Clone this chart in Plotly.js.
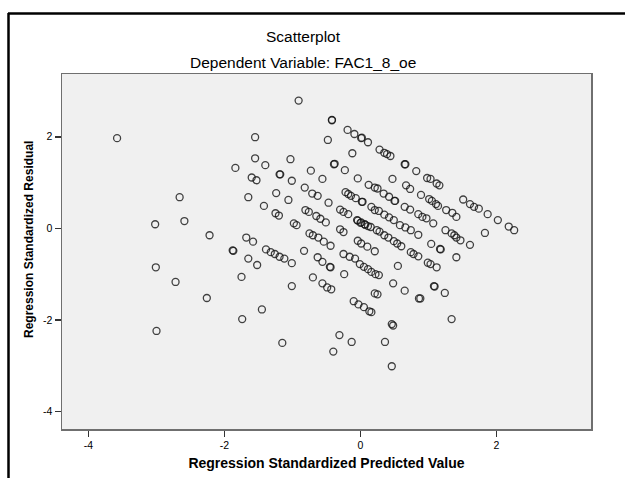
<!DOCTYPE html>
<html>
<head>
<meta charset="utf-8">
<script src="https://cdn.plot.ly/plotly-3.0.1.min.js"></script>
<style>html,body{margin:0;padding:0;background:#fff;}#chart{width:625px;height:478px;}</style>
</head>
<body>
<div id="chart"></div>
<script>
// Regression Standardized Predicted Value (x) and Regression Standardized Residual (y)
const predicted = [
-3.58,-1.55,-1.55,-1.84,-1.60,-1.53,-2.66,-1.65,-3.02,-2.59,-2.22,-1.68,-1.58,-1.88,-1.87,-1.65,-1.52,-3.01,-2.72,-1.75,-2.26,-1.74,-3.00,-1.45,
-0.91,-0.42,-0.42,-0.19,-0.09,0.01,0.02,0.11,-0.48,-0.12,0.28,0.35,0.39,0.44,-1.40,-1.03,-0.39,-0.38,-0.73,-0.23,0.65,0.66,0.82,-1.19,-1.18,-1.01,-0.56,-0.04,0.47,
0.98,1.03,1.12,1.16,0.12,0.21,0.25,0.34,0.42,0.50,0.51,0.67,0.73,0.89,1.01,1.05,1.11,1.14,-0.82,-0.71,-0.63,-0.47,-0.22,-0.18,-0.14,-0.07,0.02,0.03,
0.16,0.21,0.27,0.35,0.42,0.49,0.58,0.66,0.74,0.65,0.73,0.85,0.91,0.97,1.07,0.85,1.04,1.17,1.18,-1.24,-1.06,-1.42,-1.25,-1.20,-0.98,-0.94,-0.81,-0.76,
-0.65,-0.59,-0.51,-0.30,-0.25,-0.18,-0.05,0.00,0.06,0.11,0.15,-0.04,0.01,0.07,0.24,0.28,0.35,0.41,0.49,0.54,-0.30,-0.25,-0.75,-0.70,-0.62,-0.54,-0.44,
-0.04,0.01,0.10,0.21,0.60,0.74,0.78,0.85,-1.39,-1.32,-1.26,-1.19,-1.12,-0.83,-0.63,-0.25,-0.16,-0.08,
1.26,1.35,1.41,1.51,1.61,1.67,1.74,1.87,2.02,2.18,2.26,1.83,1.25,1.34,1.38,1.41,1.47,1.61,1.41,
0.99,1.03,1.12,1.08,1.09,1.24,0.88,1.34,
-1.01,-0.56,-0.45,-0.44,-1.01,-0.70,-0.56,-0.49,-0.43,-0.24,-0.01,0.05,0.11,0.16,0.22,0.27,0.21,0.25,-0.10,-0.03,0.05,0.13,0.16,0.48,0.65,0.86,0.55,
0.46,0.48,0.36,0.46,-0.31,-0.13,-0.40,-1.15
];
const residual = [
1.97,1.99,1.53,1.32,1.11,1.05,0.68,0.68,0.09,0.16,-0.15,-0.20,-0.29,-0.48,-0.49,-0.66,-0.80,-0.85,-1.17,-1.06,-1.52,-1.98,-2.24,-1.77,
2.79,2.36,2.37,2.15,2.06,1.97,1.98,1.88,1.93,1.64,1.72,1.65,1.62,1.58,1.38,1.51,1.40,1.41,1.26,1.27,1.40,1.40,1.25,1.18,1.18,1.04,1.08,1.09,1.08,
1.10,1.08,0.98,0.94,0.95,0.89,0.87,0.76,0.69,0.60,0.60,0.94,0.86,0.73,0.64,0.60,0.53,0.49,0.89,0.76,0.71,0.56,0.79,0.75,0.71,0.66,0.58,0.58,
0.47,0.40,0.38,0.30,0.24,0.18,0.07,0.02,-0.04,0.47,0.41,0.31,0.25,0.22,0.11,-0.14,-0.34,-0.45,-0.46,0.77,0.62,0.49,0.33,0.28,0.11,0.07,0.40,0.36,
0.27,0.21,0.13,0.41,0.36,0.31,0.18,0.12,0.09,0.05,0.03,0.17,0.13,0.08,-0.04,-0.07,-0.15,-0.20,-0.28,-0.33,-0.02,-0.08,-0.11,-0.15,-0.20,-0.29,-0.38,
-0.27,-0.33,-0.40,-0.50,-0.39,-0.52,-0.56,-0.61,-0.46,-0.52,-0.56,-0.62,-0.66,-0.49,-0.63,-0.56,-0.62,-0.66,
0.40,0.34,0.25,0.63,0.53,0.47,0.43,0.31,0.18,0.04,-0.04,-0.10,-0.04,-0.11,-0.15,-0.20,-0.26,-0.36,-0.63,
-0.75,-0.78,-0.85,-1.26,-1.27,-1.41,-1.53,-1.98,
-0.76,-0.73,-0.84,-0.85,-1.26,-1.07,-1.20,-1.29,-1.33,-1.00,-0.78,-0.84,-0.89,-0.95,-1.00,-1.02,-1.42,-1.44,-1.59,-1.66,-1.72,-1.81,-1.83,-1.20,-1.36,-1.53,-0.82,
-2.09,-2.12,-2.48,-3.01,-2.33,-2.48,-2.69,-2.50
];
const xTicks = [-4, -2, 0, 2];
const yTicks = [-4, -2, 0, 2];
const chartTitle = 'Scatterplot';
const chartSubtitle = 'Dependent Variable: FAC1_8_oe';
const xTitle = 'Regression Standardized Predicted Value';
const yTitle = 'Regression Standardized Residual';

const FONT = 'Liberation Sans, Arial, sans-serif';
const W = 625, H = 478, L = 62, R = 34, T = 74, B = 49;
const pw = W - L - R, ph = H - T - B;
const px = v => (v - L) / pw;           // page x -> paper x
const py = v => (H - B - v) / ph;       // page y -> paper y

const trace = {
  type: 'scatter', mode: 'markers',
  x: predicted, y: residual,
  marker: {symbol: 'circle-open', size: 7, color: 'rgba(20,20,20,0.8)', line: {width: 1.3}},
  hoverinfo: 'x+y', showlegend: false
};

const axisCommon = {
  showgrid: false, zeroline: false, showline: true, mirror: true,
  linecolor: '#6f6f6f', linewidth: 1.5,
  ticks: 'outside', ticklen: 6, tickwidth: 1.5, tickcolor: '#333',
  tickfont: {family: FONT, size: 10.5, color: '#000'}
};

const layout = {
  width: W, height: H,
  margin: {l: L, r: R, t: T, b: B},
  paper_bgcolor: '#ffffff', plot_bgcolor: '#f0f0f0',
  font: {family: FONT, color: '#000'},
  title: {text: chartTitle, font: {family: FONT, size: 15.5, color: '#000'},
          xref: 'paper', x: px(303), xanchor: 'center', yref: 'container', y: 1 - 37 / H, yanchor: 'middle'},
  xaxis: Object.assign({}, axisCommon, {range: [-4.39, 3.39], tickvals: xTicks, ticktext: xTicks.map(String),
    title: {text: xTitle, font: {family: FONT, size: 14, color: '#000', weight: 'bold'}, standoff: 8}}),
  yaxis: Object.assign({}, axisCommon, {range: [-4.38, 3.37], tickvals: yTicks, ticktext: yTicks.map(String),
    title: {text: ''}}),
  annotations: [
    {text: chartSubtitle, xref: 'paper', yref: 'paper', x: px(303), y: py(62), xanchor: 'center', yanchor: 'middle',
     showarrow: false, font: {family: FONT, size: 15.5, color: '#000'}},
    {text: '<b>' + yTitle + '</b>', xref: 'paper', yref: 'paper', x: px(29), y: py(240), xanchor: 'center', yanchor: 'middle',
     textangle: -90, showarrow: false, font: {family: FONT, size: 12, color: '#000'}}
  ],
  shapes: [
    {type: 'line', xref: 'paper', yref: 'paper', x0: px(8), x1: px(630), y0: py(13.5), y1: py(13.5), line: {color: '#000', width: 2.5}},
    {type: 'line', xref: 'paper', yref: 'paper', x0: px(8.5), x1: px(8.5), y0: py(13), y1: py(490), line: {color: '#000', width: 2.5}}
  ]
};

Plotly.newPlot('chart', [trace], layout, {displayModeBar: false, staticPlot: true});
</script>
</body>
</html>
